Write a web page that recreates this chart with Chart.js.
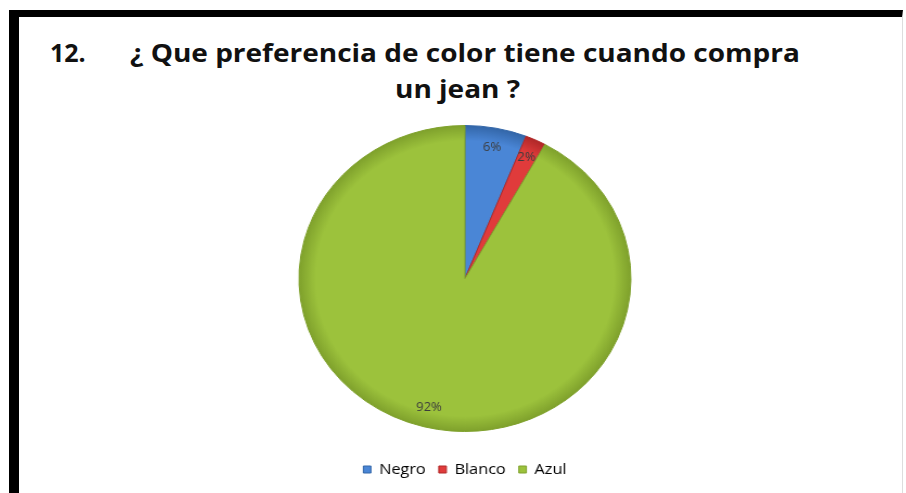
<!DOCTYPE html>
<html>
<head>
<meta charset="utf-8">
<script src="https://cdn.jsdelivr.net/npm/chart.js@4.4.1/dist/chart.umd.min.js"></script>
<style>
  html, body { margin: 0; padding: 0; background: #fff; }
  body { width: 906px; height: 493px; position: relative; overflow: hidden; font-family: "Open Sans", sans-serif; }
  #frame {
    position: absolute; left: 9px; top: 10px; right: 3px; bottom: 0;
    border-top: 7px solid #000; border-left: 10px solid #000; border-right: 1px solid #ddd;
  }
  .ttl {
    position: absolute; font-weight: bold; font-size: 25px; color: #111; white-space: nowrap;
    transform: scaleX(1.12); transform-origin: left top;
  }
  #num { left: 50px; top: 35px; transform: scaleX(1.0); }
  #l1 { left: 130px; top: 35px; }
  #l2 { left: 395px; top: 71px; }
  /* the whole plot is drawn slightly wide */
  #wrap {
    position: absolute; left: 19px; top: 17px; width: 815px; height: 476px;
    transform: scaleX(1.085); transform-origin: left top;
  }
</style>
</head>
<body>
<div id="frame"></div>
<div class="ttl" id="num">12.</div>
<div class="ttl" id="l1">¿ Que preferencia de color tiene cuando compra</div>
<div class="ttl" id="l2">un jean ?</div>
<div id="wrap"><canvas id="pie"></canvas></div>
<script>
const labels  = ['Negro', 'Blanco', 'Azul'];
const values  = [6, 2, 92];
const fills   = ['#4a86d6', '#e03b3b', '#9cc23c'];
const edges   = ['#3366a8', '#b02828', '#7fa12c'];

const PIE_R = 153;

// soft radial shading from slice colour to a darker rim, centred on the plot area
function shade(ctx) {
  const area = ctx.chart.chartArea;
  const i = ctx.dataIndex;
  if (!area) return fills[i];
  const cx = (area.left + area.right) / 2;
  const cy = (area.top + area.bottom) / 2;
  const g = ctx.chart.ctx.createRadialGradient(cx, cy, 0, cx, cy, PIE_R);
  g.addColorStop(0, fills[i]);
  g.addColorStop(0.9, fills[i]);
  g.addColorStop(1, edges[i]);
  return g;
}

const pctLabels = {
  id: 'pctLabels',
  afterDatasetsDraw(chart) {
    const c = chart.ctx;
    const meta = chart.getDatasetMeta(0);
    c.save();
    c.font = '12px "Open Sans", sans-serif';
    c.fillStyle = '#3c3c3c';
    c.textAlign = 'center';
    c.textBaseline = 'middle';
    meta.data.forEach((arc, i) => {
      const a = (arc.startAngle + arc.endAngle) / 2;
      const r = arc.outerRadius * 0.87;
      c.fillText(values[i] + '%', arc.x + Math.cos(a) * r, arc.y + Math.sin(a) * r);
    });
    c.restore();
  }
};

new Chart(document.getElementById('pie'), {
  type: 'pie',
  data: {
    labels: labels,
    datasets: [{
      data: values,
      backgroundColor: shade,
      borderColor: edges,
      borderWidth: 1
    }]
  },
  options: {
    responsive: true,
    maintainAspectRatio: false,
    animation: false,
    radius: PIE_R,
    layout: { padding: { top: 90, bottom: 6, left: 7 } },
    plugins: {
      title: { display: false },
      tooltip: { enabled: false },
      legend: {
        position: 'bottom',
        labels: {
          boxWidth: 7, boxHeight: 7, padding: 12,
          color: '#4a4a4a',
          font: { family: '"Open Sans", sans-serif', size: 15 },
          generateLabels(chart) {
            return labels.map((l, i) => ({
              text: l, fillStyle: fills[i], strokeStyle: edges[i], lineWidth: 1, index: i
            }));
          }
        }
      }
    }
  },
  plugins: [pctLabels]
});
</script>
</body>
</html>
